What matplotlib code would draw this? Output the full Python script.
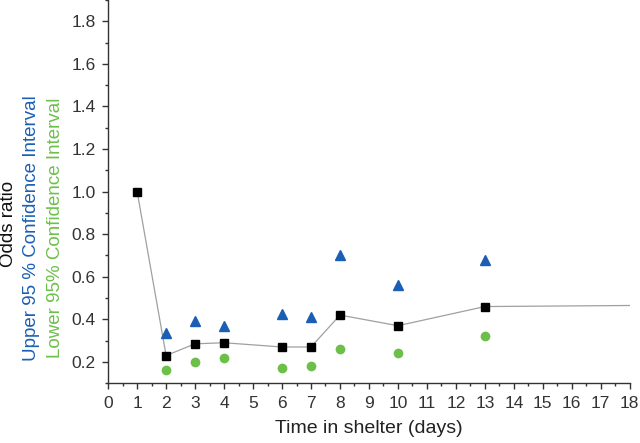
import numpy as np
import matplotlib.pyplot as plt
from matplotlib.ticker import MultipleLocator

plt.rcParams['font.family'] = ['Liberation Sans', 'DejaVu Sans']

# data
days = [1, 2, 3, 4, 6, 7, 8, 10, 13]
odds = [1.0, 0.23, 0.285, 0.29, 0.27, 0.27, 0.42, 0.37, 0.46]
ci_days = [2, 3, 4, 6, 7, 8, 10, 13]
upper = [0.335, 0.39, 0.37, 0.425, 0.41, 0.70, 0.56, 0.68]
lower = [0.16, 0.20, 0.22, 0.17, 0.18, 0.26, 0.24, 0.32]
# the connecting line runs on to the end of the axis
line_days = days + [18]
line_odds = odds + [0.465]

blue = '#1a5fb4'
green = '#6cc04a'

fig = plt.figure(figsize=(6.4, 4.43), dpi=100)
ax = fig.add_axes([0.169, 0.135, 0.815, 0.865])

ax.plot(line_days, line_odds, color='#a0a0a0', lw=0.9, zorder=1)
ax.plot(days, odds, ls='none', marker='s', ms=6, color='black', zorder=3)
ax.plot(ci_days, upper, ls='none', marker='^', ms=7.5, color=blue, zorder=3)
ax.plot(ci_days, lower, ls='none', marker='o', ms=6, color=green, zorder=3)

ax.set_xlim(0, 18)
ax.set_ylim(0.1, 1.9)
ax.xaxis.set_major_locator(MultipleLocator(1))
ax.xaxis.set_minor_locator(MultipleLocator(0.5))
ax.set_yticks(np.arange(0.2, 1.81, 0.2))
ax.yaxis.set_minor_locator(MultipleLocator(0.1))
ax.tick_params(which='major', length=4, width=1, labelsize=12.5, pad=5,
               color='#333333', labelcolor='#333333')
ax.tick_params(which='minor', length=2.5, width=1, color='#333333')

for s in ['top', 'right']:
    ax.spines[s].set_visible(False)
for s in ['left', 'bottom']:
    ax.spines[s].set_color('#333333')
    ax.spines[s].set_linewidth(1)

ax.set_xlabel('Time in shelter (days)', fontsize=14, color='#222222', labelpad=7)

fig.text(0.014, 0.495, 'Odds ratio', rotation=90, fontsize=13.5, va='center', ha='center', color='#111111')
fig.text(0.049, 0.485, 'Upper 95 % Confidence Interval', rotation=90, fontsize=13.5,
         va='center', ha='center', color=blue)
fig.text(0.086, 0.485, 'Lower 95% Confidence Interval', rotation=90, fontsize=13.5,
         va='center', ha='center', color=green)

fig.savefig('out.png', dpi=100)
